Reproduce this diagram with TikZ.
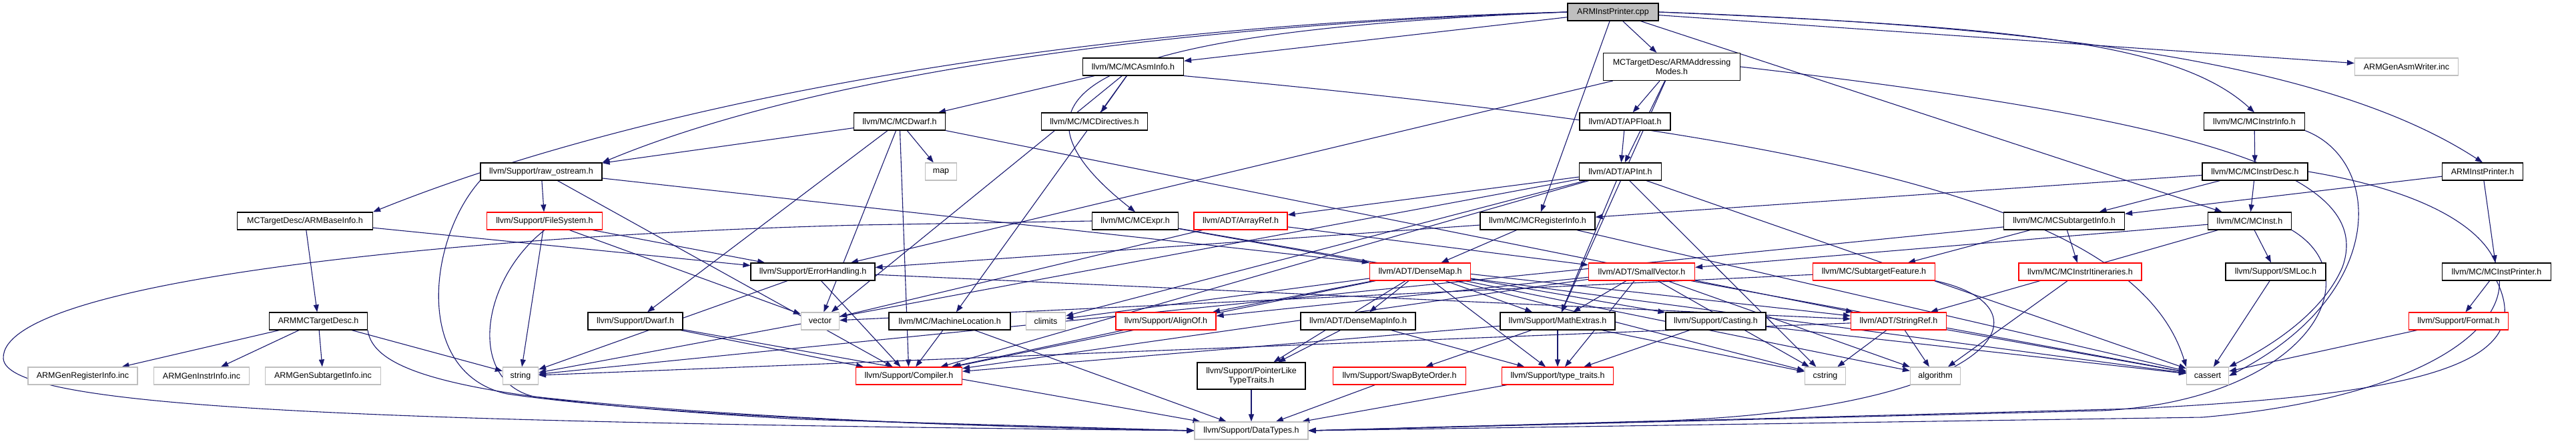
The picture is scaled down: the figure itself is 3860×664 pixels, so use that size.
\documentclass[tikz,border=0pt]{standalone}
\usepackage{fontspec}
\setsansfont{Liberation Sans}
\usetikzlibrary{arrows.meta,backgrounds}

\definecolor{edgeblue}{HTML}{191970}
\definecolor{sysgray}{HTML}{BFBFBF}

\begin{document}
\begin{tikzpicture}[x=1pt, y=-1pt,
    file/.style={draw=black, fill=white, line width=1.2pt, minimum height=26pt,
                 inner sep=2pt, align=center, font=\fontsize{12.5}{14}\selectfont},
    part/.style={file, draw=red},
    sys/.style={file, draw=sysgray},
    top/.style={file, fill=sysgray},
    dep/.style={draw=edgeblue, line width=1.1pt, -{Triangle[length=11pt,width=8pt]}}]
  \sffamily
  \useasboundingbox (0,0) rectangle (3860,664);

  % =======================================================
  % FILES (positions in pixels of the include graph)
  % =======================================================
  \node[top, minimum width=136] (root) at (2417,18) {ARMInstPrinter.cpp};

  % row 1
  \node[file, minimum width=151] (asminfo) at (1698,100) {llvm/MC/MCAsmInfo.h};
  \node[file, minimum width=205, minimum height=41] (addrmodes) at (2505,100) {MCTargetDesc/ARMAddressing\\Modes.h};
  \node[sys, minimum width=155] (asmwriter) at (3606,100) {ARMGenAsmWriter.inc};

  % row 2
  \node[file, minimum width=137] (dwarfmc) at (1348,182) {llvm/MC/MCDwarf.h};
  \node[file, minimum width=159] (directives) at (1640,182) {llvm/MC/MCDirectives.h};
  \node[file, minimum width=136] (apfloat) at (2435,182) {llvm/ADT/APFloat.h};
  \node[file, minimum width=151] (instrinfo) at (3378,182) {llvm/MC/MCInstrInfo.h};

  % row 3
  \node[file, minimum width=182] (rawos) at (811,257) {llvm/Support/raw\_ostream.h};
  \node[sys, minimum width=47] (map) at (1410,257) {map};
  \node[file, minimum width=123] (apint) at (2428,257) {llvm/ADT/APInt.h};
  \node[file, minimum width=158] (instrdesc) at (3379,257) {llvm/MC/MCInstrDesc.h};
  \node[file, minimum width=121] (iph) at (3720,257) {ARMInstPrinter.h};

  % row 4
  \node[file, minimum width=203] (baseinfo) at (457,331) {MCTargetDesc/ARMBaseInfo.h};
  \node[part, minimum width=173] (filesys) at (816,331) {llvm/Support/FileSystem.h};
  \node[file, minimum width=129] (mcexpr) at (1701,331) {llvm/MC/MCExpr.h};
  \node[part, minimum width=140] (arrayref) at (1859,331) {llvm/ADT/ArrayRef.h};
  \node[file, minimum width=172] (reginfo) at (2304,331) {llvm/MC/MCRegisterInfo.h};
  \node[file, minimum width=181] (stinfo) at (3093,331) {llvm/MC/MCSubtargetInfo.h};
  \node[file, minimum width=125] (mcinst) at (3371,331) {llvm/MC/MCInst.h};

  % row 5
  \node[file, minimum width=186] (errh) at (1218,407) {llvm/Support/ErrorHandling.h};
  \node[part, minimum width=151] (densemap) at (2128,407) {llvm/ADT/DenseMap.h};
  \node[part, minimum width=159] (smallvec) at (2460,407) {llvm/ADT/SmallVector.h};
  \node[part, minimum width=183] (stfeature) at (2808,407) {llvm/MC/SubtargetFeature.h};
  \node[part, minimum width=184] (itin) at (3117,407) {llvm/MC/MCInstrItineraries.h};
  \node[file, minimum width=150] (smloc) at (3410,407) {llvm/Support/SMLoc.h};
  \node[file, minimum width=163] (instprinter) at (3741,407) {llvm/MC/MCInstPrinter.h};

  % row 6
  \node[file, minimum width=147] (mctd) at (477,481) {ARMMCTargetDesc.h};
  \node[file, minimum width=142] (dwarf) at (952,481) {llvm/Support/Dwarf.h};
  \node[sys, minimum width=57] (vector) at (1229,481) {vector};
  \node[file, minimum width=182] (machloc) at (1423,481) {llvm/MC/MachineLocation.h};
  \node[sys, minimum width=59] (climits) at (1567,481) {climits};
  \node[part, minimum width=150] (alignof) at (1747,481) {llvm/Support/AlignOf.h};
  \node[file, minimum width=172] (dmapinfo) at (2035,481) {llvm/ADT/DenseMapInfo.h};
  \node[file, minimum width=172] (mathext) at (2334,481) {llvm/Support/MathExtras.h};
  \node[file, minimum width=150] (casting) at (2571,481) {llvm/Support/Casting.h};
  \node[part, minimum width=143] (stringref) at (2845,481) {llvm/ADT/StringRef.h};
  \node[part, minimum width=149] (format) at (3684,481) {llvm/Support/Format.h};

  % row 7
  \node[sys, minimum width=164] (genreg) at (124,563) {ARMGenRegisterInfo.inc};
  \node[sys, minimum width=143] (geninstr) at (302,563) {ARMGenInstrInfo.inc};
  \node[sys, minimum width=173] (gensub) at (484,563) {ARMGenSubtargetInfo.inc};
  \node[sys, minimum width=53] (string) at (780,563) {string};
  \node[part, minimum width=159] (compiler) at (1362,563) {llvm/Support/Compiler.h};
  \node[file, minimum width=162, minimum height=40] (ptrlike) at (1875,563) {llvm/Support/PointerLike\\TypeTraits.h};
  \node[part, minimum width=199] (swap) at (2097,563) {llvm/Support/SwapByteOrder.h};
  \node[part, minimum width=167] (typetr) at (2334,563) {llvm/Support/type\_traits.h};
  \node[sys, minimum width=61] (cstring) at (2735,563) {cstring};
  \node[sys, minimum width=75] (algorithm) at (2900,563) {algorithm};
  \node[sys, minimum width=63] (cassert) at (3308,563) {cassert};

  % row 8
  \node[sys, minimum width=170] (datatypes) at (1875,645) {llvm/Support/DataTypes.h};

  % =======================================================
  % INCLUDES
  % =======================================================
  \begin{pgfonlayer}{background}
    \foreach \a/\b in {root/addrmodes, root/asminfo, root/mcinst, root/reginfo, root/asmwriter,
        asminfo/directives, asminfo/dwarfmc, asminfo/machloc, asminfo/vector,
        addrmodes/apfloat, addrmodes/apint, addrmodes/errh, addrmodes/mathext,
        dwarfmc/rawos, dwarfmc/dwarf, dwarfmc/map, dwarfmc/vector, dwarfmc/compiler, dwarfmc/stringref,
        apfloat/apint,
        apint/arrayref, apint/mathext, apint/compiler, apint/cassert, apint/climits, apint/cstring, apint/string,
        instrinfo/instrdesc,
        instrdesc/mcinst, instrdesc/reginfo, instrdesc/stinfo,
        iph/instprinter, iph/stinfo,
        rawos/filesys, rawos/stringref, rawos/compiler,
        baseinfo/mctd, baseinfo/errh,
        filesys/string, filesys/errh, filesys/vector,
        mcexpr/densemap, mcexpr/casting,
        arrayref/smallvec, arrayref/vector,
        reginfo/densemap, reginfo/errh, reginfo/cassert,
        stinfo/stfeature, stinfo/itin, stinfo/string,
        mcinst/smallvec, mcinst/stringref, mcinst/smloc,
        errh/compiler, errh/string, errh/stringref,
        densemap/dmapinfo, densemap/alignof, densemap/compiler, densemap/mathext, densemap/ptrlike,
        densemap/typetr, densemap/algorithm, densemap/cassert, densemap/climits, densemap/cstring,
        smallvec/alignof, smallvec/compiler, smallvec/mathext, smallvec/typetr,
        smallvec/algorithm, smallvec/cassert, smallvec/cstring,
        stfeature/vector, itin/algorithm, smloc/cassert, instprinter/format,
        mctd/genreg, mctd/geninstr, mctd/gensub, mctd/string,
        dwarf/compiler, dwarf/datatypes, machloc/compiler, machloc/datatypes,
        alignof/compiler, dmapinfo/ptrlike, dmapinfo/typetr,
        mathext/swap, mathext/typetr, mathext/compiler, mathext/cstring,
        casting/typetr, casting/cassert, format/cassert,
        stringref/cstring, stringref/algorithm, stringref/cassert, stringref/string,
        ptrlike/datatypes, swap/datatypes, typetr/datatypes} {
      \draw[dep] (\a) -- (\b);
    }

    % curved ones out of the top file
    \draw[dep] (root.west) .. controls (1500,40) and (900,180) .. (baseinfo.north east);
    \draw[dep] (root.west) .. controls (1700,40) and (1200,120) .. (rawos.north east);
    \draw[dep] (root.west) .. controls (1700,45) and (1450,120) .. (mcexpr.north);
    \draw[dep] (root.east) .. controls (3000,40) and (3260,60) .. (instrinfo.north);
    \draw[dep] (root.east) .. controls (3100,40) and (3500,100) .. (iph.north);

    % long ones into cassert
    \draw[dep] (asminfo.south east) .. controls (2700,200) and (3200,300) .. (cassert.north west);
    \draw[dep] (addrmodes.east) .. controls (3300,180) and (3560,260) .. (3510,400)
                                .. controls (3480,470) and (3400,520) .. (cassert.north east);
    \draw[dep] (instrinfo.south east) .. controls (3570,240) and (3580,440) .. (cassert.east);

    % long ones that run round the bottom into DataTypes.h
    \draw[dep] (mcexpr.west) -- (1290,337) .. controls (700,352) and (0,420) .. (5,537)
                             .. controls (10,610) and (500,632) .. (datatypes.west);
    \draw[dep] (mctd.south east) .. controls (560,560) and (700,600) .. (1200,628) -- (datatypes.west);
    \draw[dep] (rawos.south west) .. controls (640,360) and (620,560) .. (760,590)
                                  .. controls (1000,625) and (1500,640) .. (datatypes.west);
    \draw[dep] (filesys.south) .. controls (720,420) and (700,570) .. (800,594)
                               .. controls (1100,627) and (1500,640) .. (datatypes.west);
    \draw[dep] (stfeature.south east) .. controls (3080,460) and (3000,610) .. (2500,630) -- (datatypes.east);
    \draw[dep] (mcinst.south east) .. controls (3560,420) and (3450,600) .. (3150,615) -- (datatypes.east);
    \draw[dep] (instrdesc.east) .. controls (3900,330) and (3820,580) .. (3300,625) -- (datatypes.east);
    \draw[dep] (instprinter.south) .. controls (3800,540) and (3650,590) .. (3200,612) -- (datatypes.east);
  \end{pgfonlayer}

\end{tikzpicture}
\end{document}
